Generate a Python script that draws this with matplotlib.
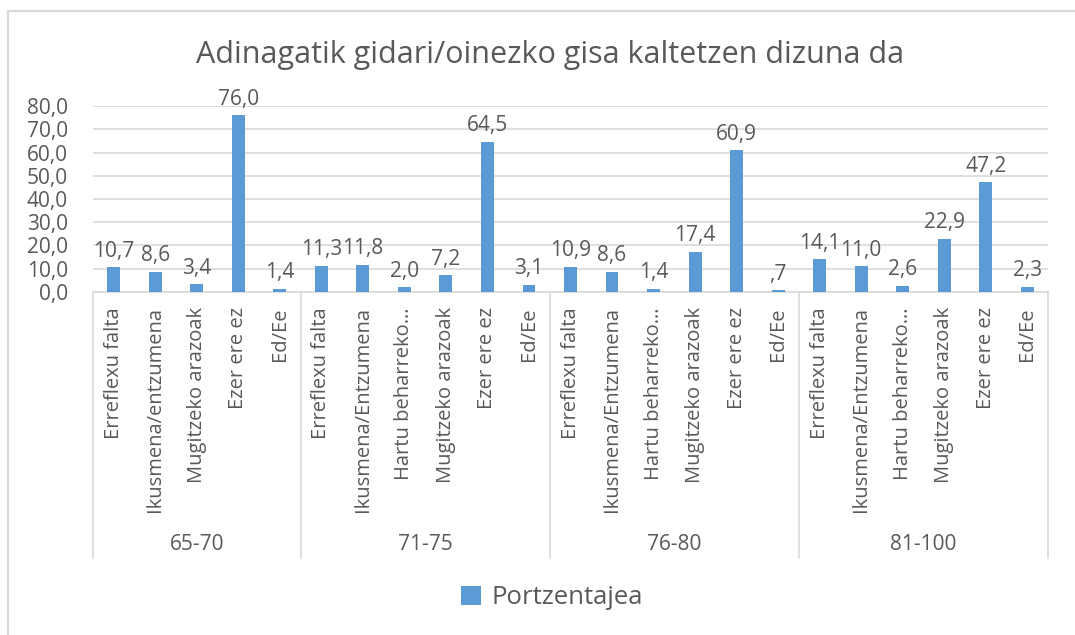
import matplotlib
matplotlib.use("Agg")
import matplotlib.pyplot as plt
from matplotlib.patches import Rectangle

plt.rcParams['font.family'] = ['Open Sans', 'DejaVu Sans']

# adin taldeak eta kategoriak
taldeak = ['65-70', '71-75', '76-80', '81-100']
kategoriak_65 = ['Erreflexu falta', 'Ikusmena/entzumena', 'Mugitzeko arazoak', 'Ezer ere ez', 'Ed/Ee']
kategoriak_71 = ['Erreflexu falta', 'Ikusmena/Entzumena', 'Hartu beharreko…', 'Mugitzeko arazoak', 'Ezer ere ez', 'Ed/Ee']
kategoriak_76 = ['Erreflexu falta', 'Ikusmena/Entzumena', 'Hartu beharreko…', 'Mugitzeko arazoak', 'Ezer ere ez', 'Ed/Ee']
kategoriak_81 = ['Erreflexu falta', 'Ikusmena/Entzumena', 'Hartu beharreko…', 'Mugitzeko arazoak', 'Ezer ere ez', 'Ed/Ee']

balioak_65 = [10.7, 8.6, 3.4, 76.0, 1.4]
balioak_71 = [11.3, 11.8, 2.0, 7.2, 64.5, 3.1]
balioak_76 = [10.9, 8.6, 1.4, 17.4, 60.9, 0.7]
balioak_81 = [14.1, 11.0, 2.6, 22.9, 47.2, 2.3]

kategoriak = [kategoriak_65, kategoriak_71, kategoriak_76, kategoriak_81]
balioak = [balioak_65, balioak_71, balioak_76, balioak_81]

etiketak = [k for g in kategoriak for k in g]
datuak = [v for g in balioak for v in g]
x = list(range(len(datuak)))

testu_kolorea = '#595959'
grisa = '#D9D9D9'

fig = plt.figure(figsize=(10.75, 6.35), dpi=100)
ax = fig.add_axes([93/1075, 1 - 292/635, (1048 - 93)/1075, (292 - 106)/635])

ax.bar(x, datuak, width=0.31, color='#5B9BD5', zorder=3, label='Portzentajea')

def formatua(v):
    s = f"{v:.1f}".replace('.', ',')
    if s.startswith('0,'):
        s = s[1:]
    return s

for xi, v in zip(x, datuak):
    ax.annotate(formatua(v), (xi, v), xytext=(0, 4), textcoords='offset points',
                ha='center', va='bottom', fontsize=15, color=testu_kolorea)

ax.set_xlim(-0.5, len(datuak) - 0.5)
ax.set_ylim(0, 80)
ax.set_yticks(range(0, 81, 10))
ax.set_yticklabels([f"{t},0" for t in range(0, 81, 10)])
ax.yaxis.grid(True, color=grisa, linewidth=1.2, zorder=0)
ax.set_xticks(x)
ax.set_xticklabels(etiketak, rotation=90, va='top', ha='center')
ax.tick_params(axis='both', length=0, colors=testu_kolorea)
ax.tick_params(axis='x', pad=11, labelsize=14.5)
ax.tick_params(axis='y', pad=18, labelsize=15)
for s in ['top', 'right', 'left']:
    ax.spines[s].set_visible(False)
ax.spines['bottom'].set_color(grisa)
ax.spines['bottom'].set_linewidth(1.2)

# talde mugak eta izenak
trans = ax.get_xaxis_transform()
hasiera = -0.5
for izena, g in zip(taldeak, kategoriak):
    amaiera = hasiera + len(g)
    ax.text((hasiera + amaiera) / 2, -1.36, izena, transform=trans, ha='center', va='center',
            fontsize=15, color=testu_kolorea)
    hasiera = amaiera
mugak = [-0.5]
for g in kategoriak:
    mugak.append(mugak[-1] + len(g))
for m in mugak:
    ax.plot([m, m], [0, -1.43], transform=trans, color=grisa, linewidth=1.2, clip_on=False)

fig.text(550/1075, 1 - 63/635, 'Adinagatik gidari/oinezko gisa kaltetzen dizuna da',
         ha='center', va='baseline', fontsize=22, color=testu_kolorea)

fig.legend(loc='center', bbox_to_anchor=(552/1075, 1 - 598/635), frameon=False,
           handlelength=0.75, handleheight=0.75, handletextpad=0.4, fontsize=18.5,
           labelcolor=testu_kolorea)

fig.patches.append(Rectangle((8/1075, -0.1), 1.2, 1.1 - 11/635, transform=fig.transFigure,
                             fill=False, edgecolor=grisa, linewidth=1.5))

fig.savefig('out.png', dpi=100, facecolor='white')
